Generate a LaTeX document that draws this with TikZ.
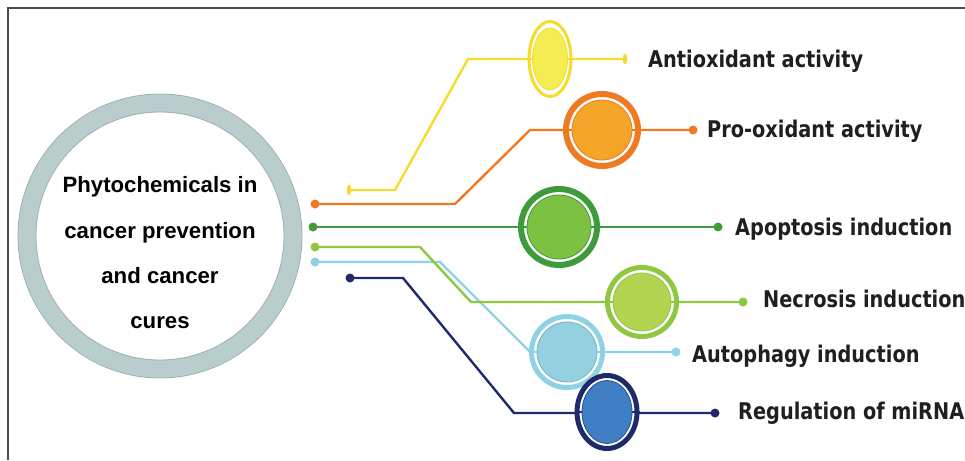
\documentclass[tikz,border=0pt]{standalone}
\usepackage{fontspec}
\setmainfont{Liberation Sans}
\newfontfamily\labelfont{DejaVu Sans}[FakeStretch=0.84]
\usetikzlibrary{shapes.geometric}

\definecolor{hubring}{HTML}{B9CDCC}
\definecolor{hubedge}{HTML}{9AB1B0}
\definecolor{yel}{HTML}{F7DB2A}
\definecolor{yelfill}{HTML}{F3EC52}
\definecolor{org}{HTML}{F07A22}
\definecolor{orgfill}{HTML}{F5A42A}
\definecolor{dgr}{HTML}{3D9B3B}
\definecolor{dgrfill}{HTML}{7DC142}
\definecolor{lgr}{HTML}{8FC741}
\definecolor{lgrfill}{HTML}{B4D451}
\definecolor{lbl}{HTML}{8ED3E5}
\definecolor{lblfill}{HTML}{93D1E1}
\definecolor{nav}{HTML}{1E2A6C}
\definecolor{navfill}{HTML}{3F7EC3}
\definecolor{framegrey}{HTML}{4A4A4A}

\tikzset{
  conn/.style={line width=2.4pt},
  enddot/.style={circle, inner sep=0pt, minimum size=9pt},
  endtick/.style={ellipse, inner sep=0pt, minimum width=4.5pt, minimum height=11pt},
  ringbox/.style={circle, fill=white, inner sep=0pt},
  ringoval/.style={ellipse, fill=white, inner sep=0pt},
  discbox/.style={circle, inner sep=0pt, line width=0.8pt},
  discoval/.style={ellipse, inner sep=0pt, line width=0.8pt},
  itemlabel/.style={font=\labelfont\bfseries\fontsize{23}{23}\selectfont,
    anchor=base west, inner sep=0pt, text=black!88},
  hubtext/.style={font=\bfseries\fontsize{22.2}{22.2}\selectfont,
    anchor=base, inner sep=0pt, text=black}
}

\begin{document}
\begin{tikzpicture}[x=1pt, y=-1pt]
\useasboundingbox (0,0) rectangle (965,460);

% outer frame (top and left edges)
\draw[framegrey, line width=1.5pt] (8,460) -- (8,8) -- (965,8);

% central hub
\node[circle, draw=hubring, line width=18pt, minimum size=266pt, inner sep=0pt] (hub) at (160,236) {};
\draw[hubedge, line width=0.8pt] (hub.center) circle[radius=142];
\draw[hubedge, line width=0.8pt] (hub.center) circle[radius=124];
\node[hubtext] (hub1) at (160,192) {Phytochemicals in};
\node[hubtext] (hub2) at (160,238) {cancer prevention};
\node[hubtext] (hub3) at (160,283) {and cancer};
\node[hubtext] (hub4) at (160,328) {cures};

% antioxidant branch
\node[endtick, fill=yel] (ya) at (349,190) {};
\coordinate (yb) at (395,190);
\coordinate (yc) at (468,59);
\node[endtick, fill=yel] (yd) at (625,59) {};
\draw[conn, yel] (ya.center) -- (yb) -- (yc) -- (yd.center);
\node[ringoval, draw=yel, line width=3pt, minimum width=42pt, minimum height=75pt] (yring) at (550,59) {};
\draw[conn, yel] (yring.west) -- (yring.east);
\node[discoval, fill=yelfill, draw=yel, minimum width=35pt, minimum height=62pt] (ydisc) at (550,59) {};
\node[itemlabel] (ylab) at (648,67) {Antioxidant activity};

% pro-oxidant branch
\node[enddot, fill=org] (oa) at (315,204) {};
\coordinate (ob) at (455,204);
\coordinate (oc) at (530,130);
\node[enddot, fill=org] (od) at (693,130) {};
\draw[conn, org] (oa.center) -- (ob) -- (oc) -- (od.center);
\node[ringbox, draw=org, line width=6pt, minimum size=72pt] (oring) at (602,130) {};
\draw[conn, org] (oring.west) -- (oring.east);
\node[discbox, fill=orgfill, draw=org, minimum size=60pt] (odisc) at (602,130) {};
\node[itemlabel] (olab) at (707,137) {Pro-oxidant activity};

% apoptosis branch
\node[enddot, fill=dgr] (ga) at (313,227) {};
\node[enddot, fill=dgr] (gd) at (718,227) {};
\draw[conn, dgr] (ga.center) -- (gd.center);
\node[ringbox, draw=dgr, line width=6pt, minimum size=76pt] (gring) at (559,227) {};
\draw[conn, dgr] (gring.west) -- (gring.east);
\node[discbox, fill=dgrfill, draw=dgr, minimum size=64pt] (gdisc) at (559,227) {};
\node[itemlabel] (glab) at (735,235) {Apoptosis induction};

% autophagy branch
\node[enddot, fill=lbl] (ba) at (315,262) {};
\coordinate (bb) at (440,262);
\coordinate (bc) at (530,352);
\node[enddot, fill=lbl] (bd) at (676,352) {};
\draw[conn, lbl] (ba.center) -- (bb) -- (bc) -- (bd.center);
\node[ringbox, draw=lbl, line width=5pt, minimum size=71pt] (bring) at (567,352) {};
\draw[conn, lbl] (bring.west) -- (bring.east);
\node[discbox, fill=lblfill, draw=lbl!85!black, minimum size=60pt] (bdisc) at (567,352) {};
\node[itemlabel] (blab) at (692,362) {Autophagy induction};

% necrosis branch
\node[enddot, fill=lgr] (la) at (315,247) {};
\coordinate (lb) at (420,247);
\coordinate (lc) at (471,302);
\node[enddot, fill=lgr] (ld) at (743,302) {};
\draw[conn, lgr] (la.center) -- (lb) -- (lc) -- (ld.center);
\node[ringbox, draw=lgr, line width=5pt, minimum size=69pt] (lring) at (642,302) {};
\draw[conn, lgr] (lring.west) -- (lring.east);
\node[discbox, fill=lgrfill, draw=lgr, minimum size=58pt] (ldisc) at (642,302) {};
\node[itemlabel] (llab) at (763,307) {Necrosis induction};

% miRNA branch
\node[enddot, fill=nav] (na) at (350,278) {};
\coordinate (nb) at (403,278);
\coordinate (nc) at (514,413);
\node[enddot, fill=nav] (nd) at (715,413) {};
\draw[conn, nav] (na.center) -- (nb) -- (nc) -- (nd.center);
\node[ringoval, draw=nav, line width=5pt, minimum width=60pt, minimum height=73pt] (nring) at (607,412) {};
\draw[conn, nav] (nring.west) -- (nring.east);
\node[discoval, fill=navfill, draw=nav!60!navfill, minimum width=50pt, minimum height=63pt] (ndisc) at (607,412) {};
\node[itemlabel] (nlab) at (738,419) {Regulation of miRNA};
\end{tikzpicture}
\end{document}
